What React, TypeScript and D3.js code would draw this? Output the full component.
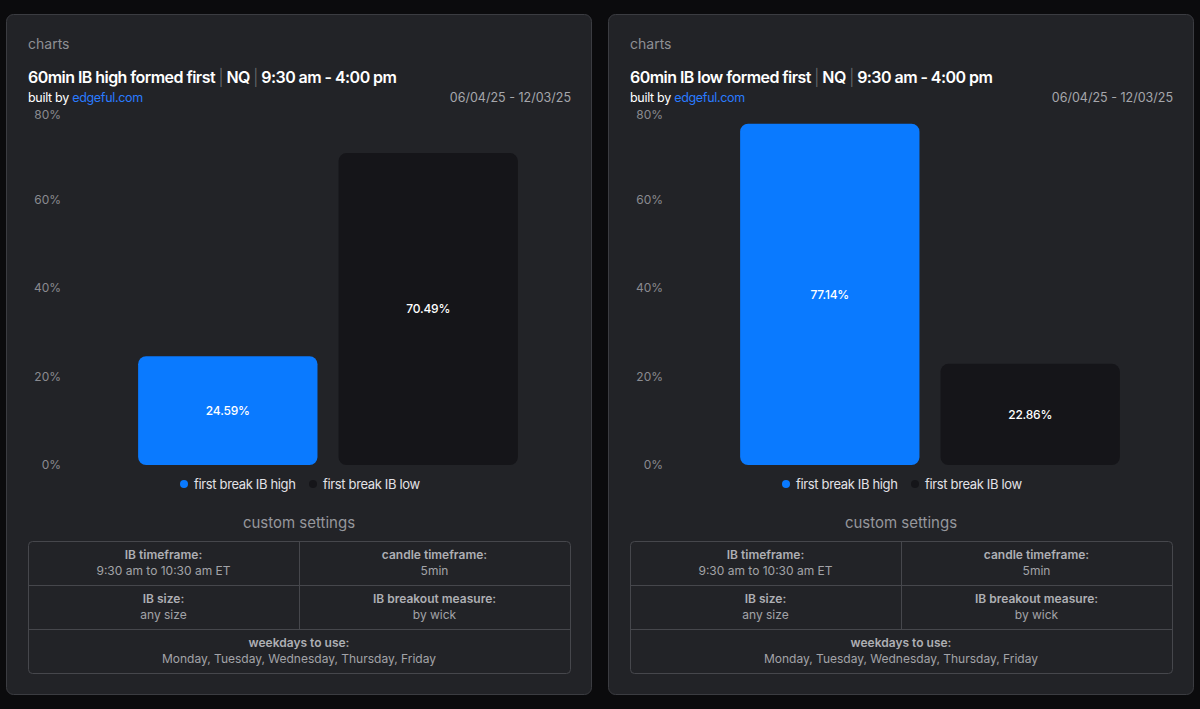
import { useRef, useEffect } from "react";
import * as d3 from "d3";

const categories = ["first break IB high", "first break IB low"];
const highFirstValues = [24.59, 70.49];
const lowFirstValues = [77.14, 22.86];
const yTicks = [0, 20, 40, 60, 80];
const panelTitles = ["60min IB high formed first", "60min IB low formed first"];
const dateRange = "06/04/25 - 12/03/25";
const settingLabels = ["IB timeframe:", "candle timeframe:", "IB size:", "IB breakout measure:", "weekdays to use:"];
const settingValues = ["9:30 am to 10:30 am ET", "5min", "any size", "by wick", "Monday, Tuesday, Wednesday, Thursday, Friday"];

const FONT = "Inter, 'Noto Sans', sans-serif";
const BLUE = "#0a7aff";
const DARK = "#151519";
const colors = [BLUE, DARK];

function drawPanel(g: d3.Selection<SVGGElement, unknown, null, undefined>, title: string, values: number[]) {
  g.append("rect")
    .attr("x", 0.5)
    .attr("y", 14.5)
    .attr("width", 585)
    .attr("height", 680)
    .attr("rx", 7)
    .attr("fill", "#222327")
    .attr("stroke", "#3b3c41");

  g.append("text").attr("x", 22).attr("y", 49).attr("fill", "#8e8f94").attr("font-size", 14).text("charts");

  const t = g.append("text").attr("x", 22).attr("y", 83).attr("font-size", 16).attr("font-weight", 600).attr("fill", "#fff").attr("letter-spacing", -0.55);
  t.append("tspan").text(title + " ");
  t.append("tspan").attr("fill", "#6d6e73").attr("font-weight", 300).text("|");
  t.append("tspan").text(" NQ ");
  t.append("tspan").attr("fill", "#6d6e73").attr("font-weight", 300).text("|");
  t.append("tspan").text(" 9:30 am - 4:00 pm");

  const b = g.append("text").attr("x", 22).attr("y", 102).attr("font-size", 12.5).attr("fill", "#fff").attr("letter-spacing", -0.3);
  b.append("tspan").text("built by ");
  b.append("tspan").attr("fill", "#2a7bff").text("edgeful.com");

  g.append("text").attr("x", 565).attr("y", 102).attr("text-anchor", "end").attr("font-size", 12.5).attr("fill", "#a6a7ac").text(dateRange);

  const x = d3.scaleBand().domain(categories).range([72, 572]).paddingInner(0.105).paddingOuter(0.3);
  const y = d3.scaleLinear().domain([0, 80]).range([465, 111]);

  g.append("g")
    .selectAll("text")
    .data(yTicks)
    .join("text")
    .attr("x", 55)
    .attr("y", (d) => Math.max(y(d), 114.5))
    .attr("dy", "0.35em")
    .attr("text-anchor", "end")
    .attr("font-size", 12)
    .attr("fill", "#8a8b90")
    .text((d) => d + "%");

  categories.forEach((c, i) => {
    const v = values[i];
    g.append("rect")
      .attr("x", x(c)!)
      .attr("y", y(v))
      .attr("width", x.bandwidth())
      .attr("height", y(0) - y(v))
      .attr("rx", 8)
      .attr("fill", colors[i]);
    g.append("text")
      .attr("x", x(c)! + x.bandwidth() / 2)
      .attr("y", (y(v) + y(0)) / 2)
      .attr("dy", "0.35em")
      .attr("text-anchor", "middle")
      .attr("font-size", 12)
      .attr("font-weight", 500)
      .attr("fill", "#fff")
      .attr("letter-spacing", -0.2)
      .text(v.toFixed(2) + "%");
  });

  // legend
  const legendX = [178, 307];
  categories.forEach((c, i) => {
    g.append("circle").attr("cx", legendX[i]).attr("cy", 484).attr("r", 4).attr("fill", colors[i]);
    g.append("text")
      .attr("x", legendX[i] + 10)
      .attr("y", 484)
      .attr("dy", "0.35em")
      .attr("font-size", 13)
      .attr("fill", "#e2e2e6")
      .attr("letter-spacing", -0.35)
      .text(c);
  });

  g.append("text").attr("x", 293).attr("y", 523).attr("dy", "0.35em").attr("text-anchor", "middle").attr("font-size", 15).attr("fill", "#96979c").text("custom settings");

  // settings table
  const tx0 = 22, tx1 = 564, ty0 = 541, rowH = 44;
  g.append("rect").attr("x", tx0 + 0.5).attr("y", ty0 + 0.5).attr("width", tx1 - tx0).attr("height", rowH * 3).attr("rx", 4).attr("fill", "none").attr("stroke", "#46474c");
  [1, 2].forEach((r) => {
    g.append("line").attr("x1", tx0).attr("x2", tx1).attr("y1", ty0 + rowH * r + 0.5).attr("y2", ty0 + rowH * r + 0.5).attr("stroke", "#46474c");
  });
  const midX = (tx0 + tx1) / 2;
  g.append("line").attr("x1", midX + 0.5).attr("x2", midX + 0.5).attr("y1", ty0).attr("y2", ty0 + rowH * 2).attr("stroke", "#46474c");

  settingLabels.forEach((lab, i) => {
    const row = Math.floor(i / 2);
    const cx = i === 4 ? midX : i % 2 === 0 ? (tx0 + midX) / 2 : (midX + tx1) / 2;
    const cy = ty0 + row * rowH;
    g.append("text").attr("x", cx).attr("y", cy + 14).attr("dy", "0.35em").attr("text-anchor", "middle").attr("font-size", 12).attr("font-weight", 600).attr("fill", "#aeafb4").text(lab);
    g.append("text").attr("x", cx).attr("y", cy + 30).attr("dy", "0.35em").attr("text-anchor", "middle").attr("font-size", 12).attr("fill", "#a2a3a8").text(settingValues[i]);
  });
}

export default function App() {
  const svgRef = useRef<SVGSVGElement>(null);

  useEffect(() => {
    if (!svgRef.current) return;
    const svg = d3.select(svgRef.current);
    svg.selectAll("*").remove();
    svg.append("rect").attr("width", 1200).attr("height", 709).attr("fill", "#0b0b0d");

    drawPanel(svg.append("g").attr("transform", "translate(6,0)"), panelTitles[0], highFirstValues);
    drawPanel(svg.append("g").attr("transform", "translate(608,0)"), panelTitles[1], lowFirstValues);
  }, []);

  return (
    <div style={{ position: "fixed", left: 0, top: 0, width: 1200, height: 709, background: "#0b0b0d" }}>
      <svg ref={svgRef} width={1200} height={709} style={{ display: "block", fontFamily: FONT }} />
    </div>
  );
}
